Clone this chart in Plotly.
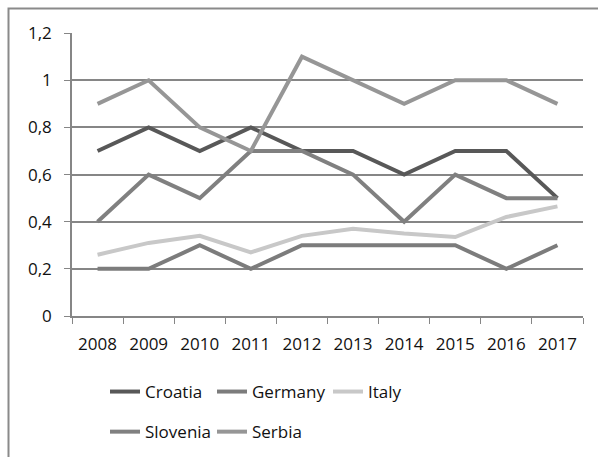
import plotly.graph_objects as go

years = ["2008", "2009", "2010", "2011", "2012", "2013", "2014", "2015", "2016", "2017"]
croatia = [0.7, 0.8, 0.7, 0.8, 0.7, 0.7, 0.6, 0.7, 0.7, 0.5]
germany = [0.2, 0.2, 0.3, 0.2, 0.3, 0.3, 0.3, 0.3, 0.2, 0.3]
italy = [0.26, 0.31, 0.34, 0.27, 0.34, 0.37, 0.35, 0.335, 0.42, 0.465]
slovenia = [0.4, 0.6, 0.5, 0.7, 0.7, 0.6, 0.4, 0.6, 0.5, 0.5]
serbia = [0.9, 1.0, 0.8, 0.7, 1.1, 1.0, 0.9, 1.0, 1.0, 0.9]

y_ticks = [0, 0.2, 0.4, 0.6, 0.8, 1.0, 1.2]
y_tick_text = ["0", "0,2", "0,4", "0,6", "0,8", "1", "1,2"]

# width/height of the figure and the plot-area margins (pixels)
W, H = 598, 457
ML, MR, MT, MB = 72, 15, 33, 141
PW, PH = W - ML - MR, H - MT - MB


def px_x(p):
    return (p - ML) / PW


def px_y(p):
    return (H - MB - p) / PH


series = [
    ("Croatia", croatia, "#585858", "legend"),
    ("Germany", germany, "#7c7c7c", "legend2"),
    ("Italy", italy, "#c8c8c8", "legend3"),
    ("Slovenia", slovenia, "#808080", "legend"),
    ("Serbia", serbia, "#969696", "legend2"),
]

fig = go.Figure()
for name, vals, color, leg in series:
    fig.add_trace(go.Scatter(
        x=years, y=vals, name=name, mode="lines",
        line=dict(color=color, width=4),
        legend=leg, legendgroup=name,
    ))

font = dict(family="Open Sans, Lato, sans-serif", size=17, color="#111111")
leg_common = dict(orientation="v", xanchor="left", yanchor="top",
                  font=font, bgcolor="rgba(0,0,0,0)", tracegroupgap=15,
                  itemwidth=30)

fig.update_layout(
    width=W, height=H,
    margin=dict(l=ML, r=MR, t=MT, b=MB, autoexpand=False),
    paper_bgcolor="white", plot_bgcolor="white",
    font=font,
    showlegend=True,
    legend=dict(x=px_x(105), y=px_y(374), **leg_common),
    legend2=dict(x=px_x(212), y=px_y(374), **leg_common),
    legend3=dict(x=px_x(328), y=px_y(374), **leg_common),
    xaxis=dict(
        type="category", tickson="boundaries", ticks="outside", ticklen=6,
        tickcolor="#868686", showline=True, linecolor="#868686", linewidth=1.5,
        showgrid=False, tickfont=font, ticklabelstandoff=12,
        range=[-0.5, 9.5],
    ),
    yaxis=dict(
        range=[0, 1.2005], tickvals=y_ticks, ticktext=y_tick_text,
        ticks="outside", ticklen=6, tickcolor="#868686",
        showline=True, linecolor="#868686", linewidth=1.5,
        showgrid=True, gridcolor="#868686", gridwidth=1.5,
        zeroline=False, tickfont=font, ticklabelstandoff=9,
    ),
    shapes=[dict(
        type="rect", xref="paper", yref="paper",
        x0=px_x(8.5), x1=px_x(605), y0=px_y(465), y1=px_y(8.5),
        line=dict(color="#8a8a8a", width=2), layer="below",
    )],
)

fig.write_html("out.html")
